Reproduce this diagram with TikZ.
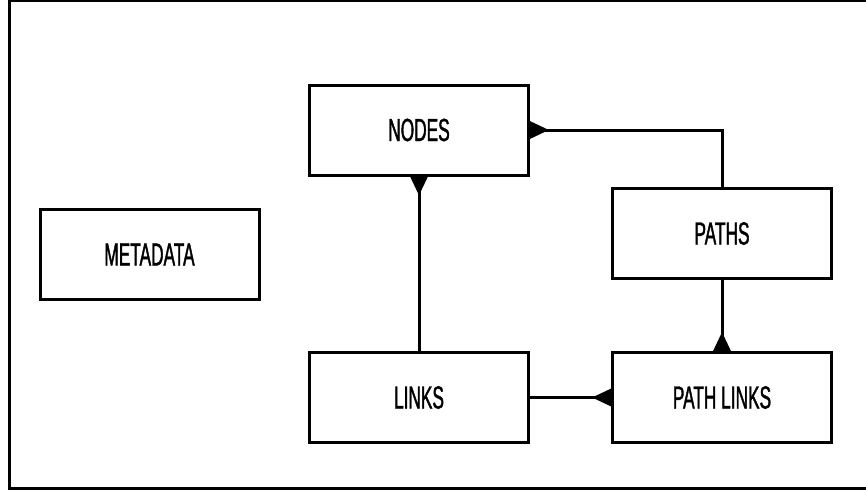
\documentclass[tikz,border=0pt]{standalone}
\usepackage{fontspec}
\setmainfont{Liberation Sans}[FakeStretch=0.54, FakeBold=1.2]
\usetikzlibrary{arrows.meta}

\begin{document}
\begin{tikzpicture}[
        x=1pt, y=-1pt,
        table/.style={rectangle, draw, line width=3pt, minimum width=219pt, minimum height=90pt,
          font=\fontsize{32}{32}\selectfont},
        fk/.style={line width=3pt, -{Triangle[reversed, length=19pt, width=17pt]}}
      ]
      \useasboundingbox (0,0) rectangle (866,490);
      \draw[line width=3pt] (866,0.5) -- (9,0.5) -- (9,488.5) -- (866,488.5);

      \node[table] (nodes) at (419,130) {NODES};
      \node[table] (paths) at (722,233.5) {PATHS};
      \node[table] (metadata) at (149.5,254.5) {METADATA};
      \node[table] (links) at (419,397.5) {LINKS};
      \node[table] (pathlinks) at (722,397.5) {PATH LINKS};

      \draw[fk] (paths.north) |- (nodes.east);
      \draw[fk] (links.north) -- (nodes.south);
      \draw[fk] (links.east) -- (pathlinks.west);
      \draw[fk] (paths.south) -- (pathlinks.north);
    \end{tikzpicture}
\end{document}
